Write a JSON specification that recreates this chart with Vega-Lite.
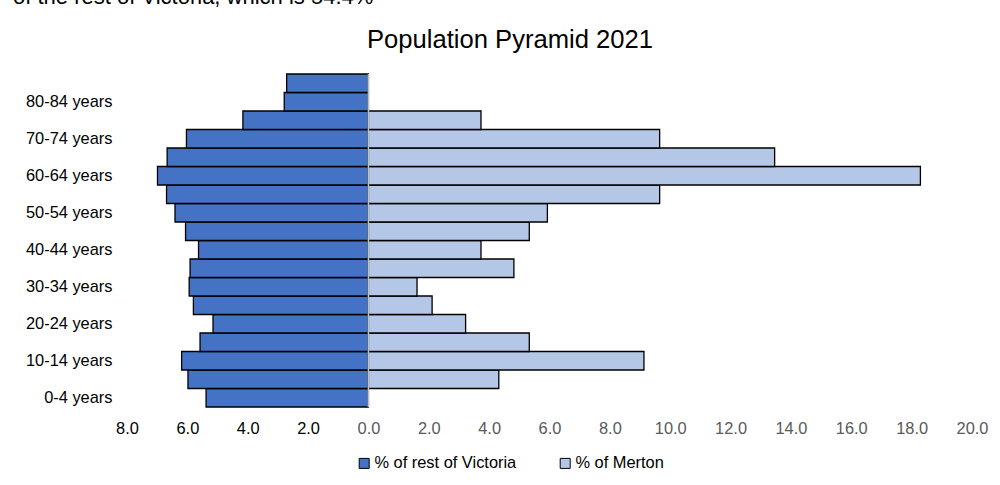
{
  "$schema": "https://vega.github.io/schema/vega-lite/v6.json",
  "width": 845,
  "height": 333,
  "autosize": {"type": "none"},
  "padding": {"left": 127, "top": 74, "right": 28, "bottom": 78},
  "background": "white",
  "config": {"view": {"stroke": null}, "font": "Liberation Sans"},
  "title": {"text": "of the rest of Victoria, which is 54.4%", "anchor": "start", "frame": "group", "dx": -114, "fontSize": 22, "fontWeight": "normal", "color": "#000000", "baseline": "alphabetic", "offset": 0, "dy": -1},
  "data": {"values": [
    {"age": "0-4 years", "series": "% of rest of Victoria", "value": 5.38},
    {"age": "5-9 years", "series": "% of rest of Victoria", "value": 5.98},
    {"age": "10-14 years", "series": "% of rest of Victoria", "value": 6.19},
    {"age": "15-19 years", "series": "% of rest of Victoria", "value": 5.58},
    {"age": "20-24 years", "series": "% of rest of Victoria", "value": 5.15},
    {"age": "25-29 years", "series": "% of rest of Victoria", "value": 5.8},
    {"age": "30-34 years", "series": "% of rest of Victoria", "value": 5.94},
    {"age": "35-39 years", "series": "% of rest of Victoria", "value": 5.91},
    {"age": "40-44 years", "series": "% of rest of Victoria", "value": 5.63},
    {"age": "45-49 years", "series": "% of rest of Victoria", "value": 6.06},
    {"age": "50-54 years", "series": "% of rest of Victoria", "value": 6.41},
    {"age": "55-59 years", "series": "% of rest of Victoria", "value": 6.69},
    {"age": "60-64 years", "series": "% of rest of Victoria", "value": 6.99},
    {"age": "65-69 years", "series": "% of rest of Victoria", "value": 6.67},
    {"age": "70-74 years", "series": "% of rest of Victoria", "value": 6.03},
    {"age": "75-79 years", "series": "% of rest of Victoria", "value": 4.16},
    {"age": "80-84 years", "series": "% of rest of Victoria", "value": 2.79},
    {"age": "85+ years", "series": "% of rest of Victoria", "value": 2.71},
    {"age": "5-9 years", "series": "% of Merton", "value": 4.32},
    {"age": "10-14 years", "series": "% of Merton", "value": 9.13},
    {"age": "15-19 years", "series": "% of Merton", "value": 5.33},
    {"age": "20-24 years", "series": "% of Merton", "value": 3.22},
    {"age": "25-29 years", "series": "% of Merton", "value": 2.11},
    {"age": "30-34 years", "series": "% of Merton", "value": 1.61},
    {"age": "35-39 years", "series": "% of Merton", "value": 4.82},
    {"age": "40-44 years", "series": "% of Merton", "value": 3.73},
    {"age": "45-49 years", "series": "% of Merton", "value": 5.33},
    {"age": "50-54 years", "series": "% of Merton", "value": 5.93},
    {"age": "55-59 years", "series": "% of Merton", "value": 9.65},
    {"age": "60-64 years", "series": "% of Merton", "value": 18.29},
    {"age": "65-69 years", "series": "% of Merton", "value": 13.46},
    {"age": "70-74 years", "series": "% of Merton", "value": 9.65},
    {"age": "75-79 years", "series": "% of Merton", "value": 3.73}
  ]},
  "transform": [
    {"calculate": "datum.series === '% of rest of Victoria' ? -datum.value : datum.value", "as": "signed"}
  ],
  "layer": [
    {
      "mark": {"type": "bar", "stroke": "#000000", "strokeWidth": 1.3},
      "encoding": {
        "y": {
          "field": "age", "type": "nominal",
          "sort": ["85+ years", "80-84 years", "75-79 years", "70-74 years", "65-69 years", "60-64 years", "55-59 years", "50-54 years", "45-49 years", "40-44 years", "35-39 years", "30-34 years", "25-29 years", "20-24 years", "15-19 years", "10-14 years", "5-9 years", "0-4 years"],
          "scale": {"paddingInner": 0, "paddingOuter": 0},
          "axis": {
            "title": null, "domain": false, "ticks": false, "grid": false,
            "values": ["80-84 years", "70-74 years", "60-64 years", "50-54 years", "40-44 years", "30-34 years", "20-24 years", "10-14 years", "0-4 years"],
            "labelFontSize": 16.4, "labelColor": "#000000", "labelPadding": 15
          }
        },
        "x": {
          "field": "signed", "type": "quantitative",
          "scale": {"domain": [-8, 20], "nice": false, "zero": false},
          "axis": {
            "title": null, "domain": false, "ticks": false, "grid": false,
            "values": [-8, -6, -4, -2, 0, 2, 4, 6, 8, 10, 12, 14, 16, 18, 20],
            "labelExpr": "format(abs(datum.value), '.1f')",
            "labelFlush": false, "labelOverlap": false,
            "labelFontSize": 16.4, "labelPadding": 13.5,
            "labelColor": {"condition": {"test": "datum.value < 0", "value": "#000000"}, "value": "#595959"}
          }
        },
        "color": {
          "field": "series", "type": "nominal",
          "scale": {"domain": ["% of rest of Victoria", "% of Merton"], "range": ["#4472C4", "#B4C7E7"]},
          "legend": {
            "title": null, "orient": "none", "legendX": 229, "legendY": 381, "direction": "horizontal",
            "symbolType": "square", "symbolSize": 100, "symbolStrokeColor": "#000000", "symbolStrokeWidth": 1,
            "labelFontSize": 16.4, "labelColor": "#000000", "labelOffset": 2, "columnPadding": 40, "padding": 0
          }
        }
      }
    },
    {
      "data": {"values": [{"line": "zero"}]},
      "mark": {"type": "rule", "color": "#BFBFBF", "strokeWidth": 1.5},
      "encoding": {
        "x": {
          "datum": 0, "type": "quantitative",
          "axis": {
            "orient": "top", "domain": false, "ticks": false, "labels": false, "grid": false,
            "title": "Population Pyramid 2021", "titleFontSize": 25.6, "titleFontWeight": "normal", "titleColor": "#000000",
            "titleX": 382.5, "titleY": -27, "titleAlign": "center", "titleAnchor": "start", "titleBaseline": "alphabetic"
          }
        }
      }
    }
  ],
  "resolve": {"axis": {"x": "independent"}}
}
